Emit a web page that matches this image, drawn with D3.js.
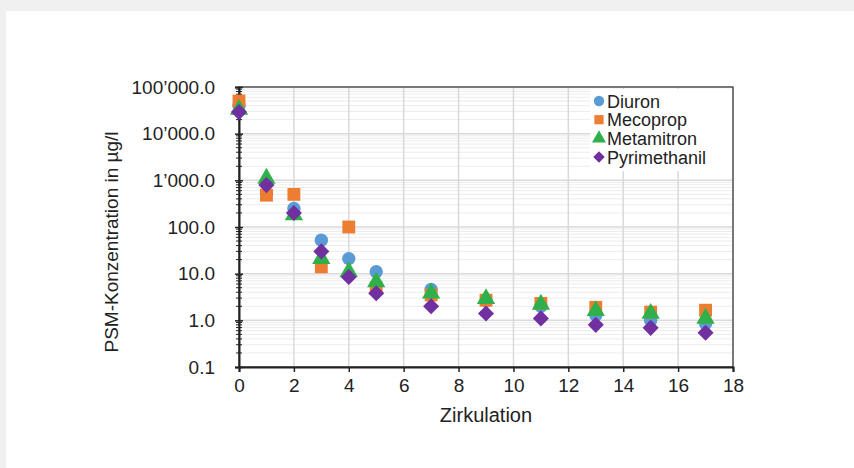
<!DOCTYPE html>
<html>
<head>
<meta charset="utf-8">
<script src="https://cdn.jsdelivr.net/npm/d3@7"></script>
<style>
  body { margin: 0; background: #f0f0f0; }
  svg text { font-family: "Liberation Sans", Arial, sans-serif; fill: #222; }
</style>
</head>
<body>
<svg id="chart" width="854" height="468"></svg>
<script>
// data
var zirkulation = [0, 1, 2, 3, 4, 5, 7, 9, 11, 13, 15, 17];
var diuron = [40000, 520, 250, 52, 21, 11, 4.6, 2.6, 2.0, 1.3, 1.0, 0.85];
var mecoprop = [50000, 480, 500, 14, 100, 4.9, 3.5, 2.7, 2.3, 1.9, 1.5, 1.65];
var metamitron = [33000, 1100, 180, 21, 11, 6.6, 3.8, 2.9, 2.2, 1.6, 1.4, 1.1];
var pyrimethanil = [29000, 790, 200, 30, 8.5, 3.8, 2.0, 1.4, 1.1, 0.8, 0.69, 0.54];
var seriesNames = ["Diuron", "Mecoprop", "Metamitron", "Pyrimethanil"];
var seriesColors = ["#5b9bd5", "#ed7d31", "#2fb04a", "#7030a0"];
var seriesShapes = [d3.symbolCircle, d3.symbolSquare, d3.symbolTriangle, d3.symbolDiamond2];
var yTicks = [0.1, 1, 10, 100, 1000, 10000, 100000];
var xTicks = [0, 2, 4, 6, 8, 10, 12, 14, 16, 18];

var svg = d3.select("#chart");

// white panel
svg.append("rect").attr("x", 6).attr("y", 11).attr("width", 848).attr("height", 457).attr("fill", "#fff");

var plotLeft = 239, plotRight = 733, plotTop = 87, plotBottom = 367;

var x = d3.scaleLinear().domain([0, 18]).range([plotLeft, plotRight]);
var y = d3.scaleLog().domain([0.1, 100000]).range([plotBottom, plotTop]);

// minor grid
var minorVals = [];
for (var e = -1; e < 5; e++) {
  for (var k = 2; k < 10; k++) minorVals.push(k * Math.pow(10, e));
}
svg.append("g").selectAll("line").data(minorVals).enter().append("line")
  .attr("x1", plotLeft).attr("x2", plotRight)
  .attr("y1", function (d) { return y(d); }).attr("y2", function (d) { return y(d); })
  .attr("stroke", "#ececec").attr("stroke-width", 1);

// major grid
svg.append("g").selectAll("line").data(yTicks).enter().append("line")
  .attr("x1", plotLeft).attr("x2", plotRight)
  .attr("y1", function (d) { return y(d); }).attr("y2", function (d) { return y(d); })
  .attr("stroke", "#d9d9d9").attr("stroke-width", 1.5);
svg.append("g").selectAll("line").data(xTicks).enter().append("line")
  .attr("y1", plotTop).attr("y2", plotBottom)
  .attr("x1", function (d) { return x(d); }).attr("x2", function (d) { return x(d); })
  .attr("stroke", "#d9d9d9").attr("stroke-width", 1.5);

// frame
svg.append("rect").attr("x", plotLeft).attr("y", plotTop).attr("width", plotRight - plotLeft).attr("height", plotBottom - plotTop)
  .attr("fill", "none").attr("stroke", "#333").attr("stroke-width", 1.2);

// axis x
var fmtDe = function (d) {
  var s = d3.format(",.1f")(d);
  return s.replace(/,/g, "\u2019");
};
var xAxis = d3.axisBottom(x).tickValues(xTicks).tickSize(5).tickPadding(7);
var gx = svg.append("g").attr("transform", "translate(0," + plotBottom + ")").call(xAxis);
gx.select(".domain").attr("stroke", "#222").attr("stroke-width", 2);
gx.selectAll(".tick line").attr("stroke", "#222").attr("stroke-width", 1.5);
gx.selectAll("text").attr("font-size", 19).attr("fill", "#222");

// axis y
var yAxis = d3.axisLeft(y).tickValues(yTicks).tickFormat(fmtDe).tickSize(4).tickPadding(20);
var gy = svg.append("g").attr("transform", "translate(" + plotLeft + ",0)").call(yAxis);
gy.select(".domain").attr("stroke", "#222").attr("stroke-width", 2);
gy.selectAll(".tick line").attr("stroke", "#222").attr("stroke-width", 1.5).attr("x2", 4).attr("x1", -4);
gy.selectAll("text").attr("font-size", 19).attr("fill", "#222");
// minor ticks
svg.append("g").selectAll("line").data(minorVals).enter().append("line")
  .attr("x1", plotLeft - 3).attr("x2", plotLeft + 3)
  .attr("y1", function (d) { return y(d); }).attr("y2", function (d) { return y(d); })
  .attr("stroke", "#222").attr("stroke-width", 1);

// titles
svg.append("text").attr("x", 486).attr("y", 422).attr("text-anchor", "middle")
  .attr("font-size", 20).text("Zirkulation");
svg.append("text").attr("transform", "translate(118," + ((plotTop + plotBottom) / 2 + 15) + ") rotate(-90)")
  .attr("text-anchor", "middle").attr("font-size", 19).text("PSM-Konzentration in \u00b5g/l");

// points
var allSeries = [diuron, mecoprop, metamitron, pyrimethanil];
var symbolSizes = [140, 165, 145, 165];
allSeries.forEach(function (vals, si) {
  var sym = d3.symbol().type(seriesShapes[si]).size(symbolSizes[si]);
  svg.append("g").selectAll("path").data(vals).enter().append("path")
    .attr("d", sym)
    .attr("transform", function (d, i) { return "translate(" + x(zirkulation[i]) + "," + y(d) + ")"; })
    .attr("fill", seriesColors[si]);
});

// legend
var lg = svg.append("g");
lg.append("rect").attr("x", 590).attr("y", 89).attr("width", 142).attr("height", 82).attr("fill", "#fff");
seriesNames.forEach(function (name, i) {
  var ly = 101 + i * 18.7;
  lg.append("path").attr("d", d3.symbol().type(seriesShapes[i]).size(85)())
    .attr("transform", "translate(599," + ly + ")").attr("fill", seriesColors[i]);
  lg.append("text").attr("x", 607).attr("y", ly + 6.5).attr("font-size", 18).text(name);
});
</script>
</body>
</html>
